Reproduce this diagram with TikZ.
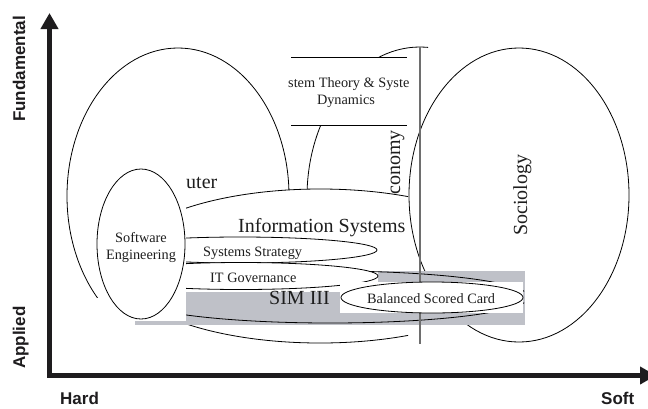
\documentclass[tikz,border=0pt]{standalone}
\usepackage{fontspec}
\setmainfont{Liberation Serif}
\newfontfamily\axisfont{Liberation Sans}
\usetikzlibrary{arrows.meta}
\definecolor{simgrey}{RGB}{191,193,200}
\definecolor{vline}{RGB}{110,110,110}
\definecolor{axiscol}{RGB}{30,28,30}
\definecolor{txt}{RGB}{30,30,30}
\begin{document}
\begin{tikzpicture}[x=1pt,y=-1pt,
  shp/.style={draw=black,line width=0.8pt},
  wshp/.style={shp,fill=white},
  small/.style={font=\fontsize{14.3}{17}\selectfont,inner sep=0pt,text=txt},
  big/.style={font=\fontsize{20}{24}\selectfont,inner sep=0pt,text=txt},
  axlbl/.style={font=\axisfont\bfseries\fontsize{17}{20}\selectfont,inner sep=0pt,text=axiscol},
  axisline/.style={draw=axiscol,line width=4.5pt,{Triangle[length=16pt,width=17pt]}-{Triangle[length=16pt,width=17pt]}}
]
\useasboundingbox (0,0) rectangle (648,408);
\fill[white] (0,0) rectangle (648,408);

% Computer ellipse
\begin{scope}
  \clip (0,0) rectangle (648,297);
  \draw[shp] (178,196) ellipse [x radius=111pt, y radius=148pt];
\end{scope}

% Economy ellipse
\begin{scope}
  \clip (0,0) rectangle (428,192);
  \draw[shp] (420,197) ellipse [x radius=113pt, y radius=150pt];
\end{scope}

% Sociology ellipse
\draw[shp] (519,195) ellipse [x radius=110pt, y radius=147pt];

% System theory box
\fill[white] (291,57) rectangle (407,125);
\draw[shp] (291,57) -- (407,57);
\draw[shp] (291,125) -- (407,125);
\node[small,anchor=base west] (st1) at (288,87) {stem Theory \& Syste};
\node[small,anchor=base] (st2) at (346,104) {Dynamics};

% Information Systems ellipse
\begin{scope}
  \clip (186,0) rectangle (408,408);
  \draw[wshp] (320,266) ellipse [x radius=203pt, y radius=77pt];
\end{scope}

% Software Engineering ellipse
\draw[wshp] (141,244) ellipse [x radius=44pt, y radius=75pt];
\node[small,anchor=base] (se1) at (141,242) {Software};
\node[small,anchor=base] (se2) at (141,259) {Engineering};

% Systems Strategy ellipse
\begin{scope}
  \clip (186,0) rectangle (648,408);
  \draw[wshp] (240,250) ellipse [x radius=137pt, y radius=13pt];
\end{scope}
\node[small,anchor=base west] (ss) at (203,256) {Systems Strategy};

% grey SIM area
\fill[simgrey] (186,292) rectangle (525,324.5);
\fill[simgrey] (378,271) rectangle (525,292);
\fill[simgrey] (135,321) rectangle (186,324.5);

% SIM III ellipse
\begin{scope}
  \clip (186,0) rectangle (524,408);
  \draw[shp] (330,297) ellipse [x radius=199pt, y radius=26pt];
\end{scope}

% IT Governance ellipse
\begin{scope}
  \clip (186,0) rectangle (648,408);
  \draw[wshp] (241,276) ellipse [x radius=137pt, y radius=13.5pt];
\end{scope}
\node[small,anchor=base west] (itg) at (210,282) {IT Governance};

% vertical grey line
\draw[vline,line width=1.2pt] (420,47) -- (420,344);

% Balanced Scored Card
\fill[white] (340,282) rectangle (523,313);
\draw[shp] (432,297.5) ellipse [x radius=91pt, y radius=15.5pt];
\node[small,anchor=base west] (bsc) at (367,303) {Balanced Scored Card};

% big texts
\node[big,anchor=base west] (sim) at (269,304) {SIM III};
\node[big,anchor=base west] (is) at (238,232) {Information Systems};
\node[big,anchor=base west] (cs) at (186,188) {uter};
\node[big,rotate=90,anchor=base west] (eco) at (400,195) {conomy};
\node[big,rotate=90,anchor=base west] (soc) at (527,236) {Sociology};

% axes
\coordinate (ytop) at (49.5,13);
\coordinate (orig) at (49.5,375.5);
\coordinate (xend) at (656,375.5);
\draw[axisline] (ytop) -- (orig) -- (xend);

\node[axlbl,rotate=90,anchor=base west] (fund) at (25,122) {Fundamental};
\node[axlbl,rotate=90,anchor=base west] (appl) at (25,369) {Applied};
\node[axlbl,anchor=base west] (hard) at (60,404) {Hard};
\node[axlbl,anchor=base west] (soft) at (601,404) {Soft};
\end{tikzpicture}
\end{document}
